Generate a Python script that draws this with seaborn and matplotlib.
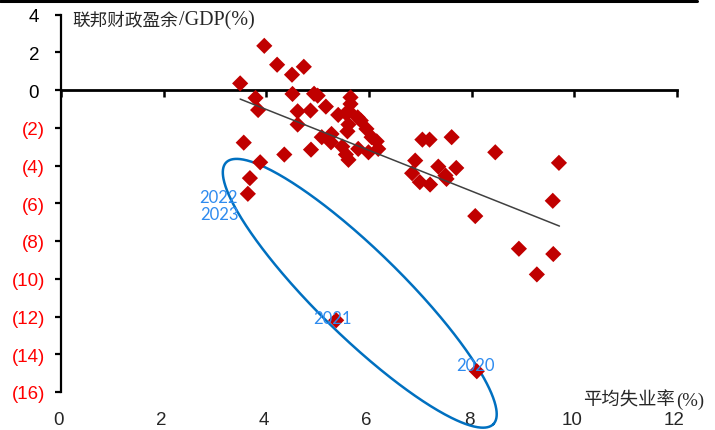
import numpy as np
import pandas as pd
import matplotlib
matplotlib.use('Agg')
import matplotlib.pyplot as plt
import matplotlib.transforms as mtransforms
from matplotlib.lines import Line2D
import seaborn as sns

# ---- data ----
unemployment = [3.96, 4.21, 4.73, 4.50, 3.49, 4.51, 4.93, 5.00, 3.79, 5.64,
                3.84, 4.61, 4.86, 5.16, 5.64, 5.61, 5.40, 5.55, 5.78, 5.84,
                5.60, 5.58, 5.95, 4.61, 5.08, 5.26, 5.27, 3.56, 6.05, 6.15,
                6.18, 5.48, 5.79, 5.99, 4.87, 4.35, 5.55, 5.60, 3.88, 3.68,
                3.64, 7.04, 7.18, 7.61, 8.46, 9.70, 6.90, 6.84, 7.35, 7.70,
                7.49, 7.51, 6.99, 7.19, 9.58, 8.07, 8.92, 9.59, 9.27, 5.36,
                8.10]
surplus = [2.34, 1.34, 1.23, 0.81, 0.35, -0.21, -0.20, -0.30, -0.42, -0.39,
           -1.06, -1.13, -1.09, -0.88, -0.74, -1.13, -1.32, -1.23, -1.45, -1.62,
           -1.83, -2.19, -2.06, -1.83, -2.50, -2.77, -2.33, -2.79, -2.50, -2.72,
           -3.12, -3.00, -3.12, -3.30, -3.16, -3.42, -3.42, -3.70, -3.83, -4.67,
           -5.50, -2.63, -2.63, -2.50, -3.30, -3.86, -3.74, -4.41, -4.06, -4.13,
           -4.53, -4.71, -4.88, -5.01, -5.87, -6.68, -8.41, -8.69, -9.77, -12.20,
           -14.90]

trend_x = [3.49, 9.71]
trend_y = [-0.48, -7.21]

year_labels = ['2022', '2023', '2021', '2020']
year_label_x = [3.07, 3.09, 5.29, 8.08]
year_label_y = [-5.65, -6.56, -12.06, -14.55]

x_ticks = [0, 2, 4, 6, 8, 10, 12]
y_ticks = [4, 2, 0, -2, -4, -6, -8, -10, -12, -14, -16]
y_tick_labels = ['4 ', '2 ', '0 ', '(2)', '(4)', '(6)', '(8)', '(10)', '(12)', '(14)', '(16)']

y_title_cjk = '联邦财政盈余'
y_title_latin = '/GDP(%)'
x_title_cjk = '平均失业率'
x_title_latin = '(%)'

# ellipse highlighting 2020-2023 (centre in data units, axes in pixels)
ell_center = (5.82, -10.77)
ell_semi_major_px = 187
ell_semi_minor_px = 43
ell_angle_deg = -44.4

df = pd.DataFrame({'unemployment': unemployment, 'surplus': surplus})

# ---- styling ----
sns.set_style('white')
plt.rcParams['font.family'] = ['Liberation Sans', 'Noto Sans CJK SC', 'DejaVu Sans']
plt.rcParams['axes.unicode_minus'] = False

W, H = 715, 431
fig = plt.figure(figsize=(W / 100, H / 100), dpi=100)
ax = fig.add_axes([61 / W, (H - 393) / H, 616 / W, (393 - 15.5) / H])

sns.scatterplot(data=df, x='unemployment', y='surplus', marker='D', s=68,
                color='#C00000', edgecolor='none', ax=ax, zorder=3)
sns.lineplot(x=trend_x, y=trend_y, color='#404040', linewidth=1.1, ax=ax,
             sort=False, zorder=4)

ax.set_xlim(0, 12)
ax.set_ylim(-16, 4)
ax.set_xlabel('')
ax.set_ylabel('')

# spines
ax.spines['top'].set_visible(False)
ax.spines['right'].set_visible(False)
ax.spines['left'].set_linewidth(1.6)
ax.spines['bottom'].set_position(('data', 0))
ax.spines['bottom'].set_linewidth(2.0)
ax.spines['left'].set_color('black')
ax.spines['bottom'].set_color('black')

ax.set_xticks(x_ticks)
ax.tick_params(axis='x', direction='out', length=5, width=1.8, color='black',
               labelbottom=False, bottom=True)
ax.set_yticks(y_ticks)
ax.set_yticklabels(y_tick_labels)
ax.tick_params(axis='y', direction='out', length=4, width=1.6, color='black',
               labelsize=13.5, pad=7.5, left=True)
for lbl, v in zip(ax.get_yticklabels(), y_ticks):
    lbl.set_color('#FF0000' if v < 0 else 'black')

# x tick labels at the bottom of the plot
sec = ax.secondary_xaxis(0)
sec.set_xticks(x_ticks)
sec.tick_params(axis='x', length=0, pad=14, labelsize=13.5)
sec.spines['bottom'].set_visible(False)
shift = mtransforms.ScaledTranslation(-2.5 / 100, 0, fig.dpi_scale_trans)
for lbl in sec.get_xticklabels():
    lbl.set_transform(lbl.get_transform() + shift)

# axis titles (CJK part, then Latin part placed right after it on the same baseline)
serif_cjk = ['Liberation Serif', 'Noto Sans CJK SC']
fig.canvas.draw()
renderer = fig.canvas.get_renderer()

t1 = fig.text(72 / W, (H - 25.5) / H, y_title_cjk, ha='left', va='baseline',
              fontsize=12.7, family=serif_cjk)
bb = t1.get_window_extent(renderer)
fig.text((bb.x1 + 1) / W, (H - 25.5) / H, y_title_latin, ha='left', va='baseline',
         fontsize=14.5, family=serif_cjk)

t2 = fig.text(583 / W, (H - 405.5) / H, x_title_cjk, ha='left', va='baseline',
              fontsize=13.2, family=serif_cjk)
bb2 = t2.get_window_extent(renderer)
fig.text((bb2.x1 + 1) / W, (H - 405.5) / H, x_title_latin, ha='left', va='baseline',
         fontsize=13.5, family=serif_cjk)

# year labels
for t, xv, yv in zip(year_labels, year_label_x, year_label_y):
    ax.text(xv, yv, t, ha='center', va='center', fontsize=12,
            color='#2E8BEF', family=['Lato', 'DejaVu Sans'], zorder=5)

# ellipse, drawn in pixel space then mapped back to data units
cx, cy = ax.transData.transform(ell_center)
t = np.linspace(0, 2 * np.pi, 500)
th = np.deg2rad(ell_angle_deg)
ex = ell_semi_major_px * np.cos(t)
ey = ell_semi_minor_px * np.sin(t)
X = cx + ex * np.cos(th) - ey * np.sin(th)
Y = cy + ex * np.sin(th) + ey * np.cos(th)
pts = ax.transData.inverted().transform(np.column_stack([X, Y]))
ax.plot(pts[:, 0], pts[:, 1], color='#0070C0', linewidth=1.8, clip_on=False, zorder=2)

# black rule at top of image
fig.add_artist(Line2D([0, 697 / W], [1 - 1.5 / H, 1 - 1.5 / H], color='black',
                      linewidth=2.2, transform=fig.transFigure))

fig.savefig('out.png', dpi=100)
